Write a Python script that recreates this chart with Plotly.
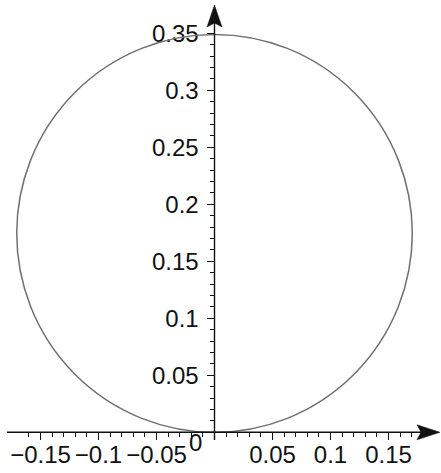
import numpy as np
import plotly.graph_objects as go

# ---- data ----
x_tick_vals = [-0.15, -0.1, -0.05, 0.05, 0.1, 0.15]
x_tick_text = ["\u22120.15", "\u22120.1", "\u22120.05", "0.05", "0.1", "0.15"]
y_tick_vals = [0.05, 0.1, 0.15, 0.2, 0.25, 0.3, 0.35]
y_tick_text = ["0.05", "0.1", "0.15", "0.2", "0.25", "0.3", "0.35"]
origin_label = "0"
circle_center_x = 0.0
circle_center_y = 0.1745
circle_radius_x = 0.1705
circle_radius_y = 0.1745

# ---- geometry (pixel calibration of the reference) ----
W, H = 441, 473
x0_px, x_scale = 214.5, 1160.0   # px of x=0, px per unit
y0_px, y_scale = 432.3, 1140.0   # px (from top) of y=0, px per unit
x_range = [-x0_px / x_scale, (W - x0_px) / x_scale]
y_range = [-(H - y0_px) / y_scale, y0_px / y_scale]

x_minor = [round(v, 2) for v in np.arange(-0.16, 0.1701, 0.01)]
y_minor = [round(v, 2) for v in np.arange(0.01, 0.3401, 0.01)]

x_axis_start = -(x0_px - 7) / x_scale
x_axis_tip = (440 - x0_px) / x_scale
y_axis_start = -(440 - y0_px) / y_scale
y_axis_tip = (y0_px - 5) / y_scale

font_family = "Liberation Sans, Arial, Helvetica, sans-serif"
ink = "#111111"
fsize = 24

fig = go.Figure()

shapes = [
    dict(type="circle", xref="x", yref="y",
         x0=circle_center_x - circle_radius_x, x1=circle_center_x + circle_radius_x,
         y0=circle_center_y - circle_radius_y, y1=circle_center_y + circle_radius_y,
         line=dict(color="#707070", width=1.5)),
    dict(type="line", xref="x", yref="y", x0=x_axis_start, x1=x_axis_tip - 0.01,
         y0=0, y1=0, line=dict(color=ink, width=1.4)),
    dict(type="line", xref="x", yref="y", x0=0, x1=0,
         y0=y_axis_start, y1=y_axis_tip - 0.01, line=dict(color=ink, width=1.4)),
    # arrow heads (pixel-sized paths anchored at tips)
    dict(type="path", xref="x", yref="y", xsizemode="pixel", ysizemode="pixel",
         xanchor=x_axis_tip, yanchor=0,
         path="M0,0 L-23,7.5 L-19,0 L-23,-7.5 Z",
         fillcolor=ink, line=dict(color=ink, width=0.5)),
    dict(type="path", xref="x", yref="y", xsizemode="pixel", ysizemode="pixel",
         xanchor=0, yanchor=y_axis_tip,
         path="M0,0 L-7.5,-22 L0,-18 L7.5,-22 Z",
         fillcolor=ink, line=dict(color=ink, width=0.5)),
]

annotations = [
    dict(x=-(x0_px - 195.5) / x_scale, y=-(442.5 - y0_px) / y_scale, xref="x", yref="y",
         text=origin_label, showarrow=False, xanchor="center", yanchor="middle",
         font=dict(family=font_family, size=fsize, color=ink)),
]

fig.update_layout(
    width=W, height=H,
    margin=dict(l=0, r=0, t=0, b=0, pad=0),
    paper_bgcolor="white", plot_bgcolor="white",
    showlegend=False,
    shapes=shapes,
    annotations=annotations,
    font=dict(family=font_family, size=fsize, color=ink),
    xaxis=dict(range=x_range, anchor="free", position=(H - y0_px) / H,
               showline=False, zeroline=False, showgrid=False,
               ticks="outside", ticklen=7, tickwidth=1.2, tickcolor=ink,
               tickmode="array", tickvals=x_tick_vals, ticktext=x_tick_text,
               tickfont=dict(family=font_family, size=fsize, color=ink),
               ticklabelstandoff=-6,
               minor=dict(tickmode="array", tickvals=x_minor, ticks="outside",
                          ticklen=4, tickwidth=1.2, tickcolor=ink, showgrid=False),
               automargin=False, fixedrange=True),
    yaxis=dict(range=y_range, anchor="free", position=x0_px / W, side="left",
               showline=False, zeroline=False, showgrid=False,
               ticks="outside", ticklen=8, tickwidth=1.2, tickcolor=ink,
               tickmode="array", tickvals=y_tick_vals, ticktext=y_tick_text,
               tickfont=dict(family=font_family, size=fsize, color=ink),
               ticklabelstandoff=3,
               minor=dict(tickmode="array", tickvals=y_minor, ticks="outside",
                          ticklen=5, tickwidth=1.2, tickcolor=ink, showgrid=False),
               automargin=False, fixedrange=True),
)

fig.write_html("out.html", config=dict(displayModeBar=False),
               post_script="document.body.style.margin='0';document.body.style.overflow='hidden';")
